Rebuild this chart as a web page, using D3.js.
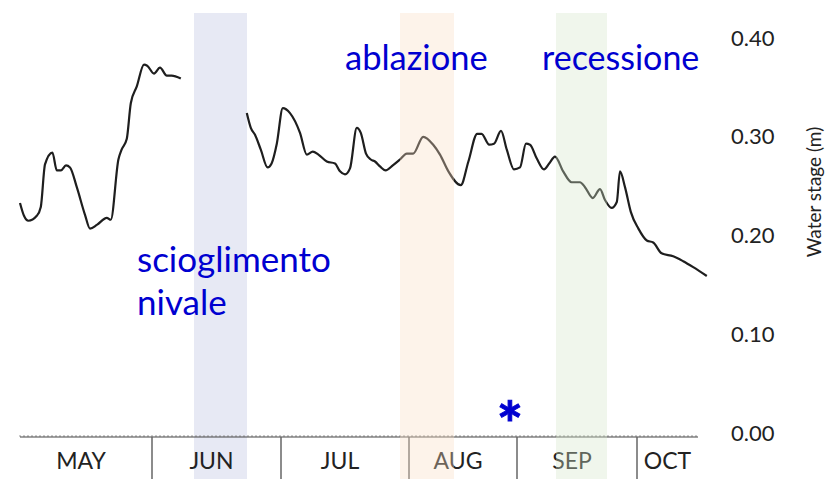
<!DOCTYPE html>
<html>
<head>
<meta charset="utf-8">
<script src="https://cdn.jsdelivr.net/npm/d3@7"></script>
<style>
  body { margin: 0; background: #fff; }
  text { font-family: Lato, "Open Sans", sans-serif; }
</style>
</head>
<body>
<div id="chart"></div>
<script>
// water stage series, x = days since the start of the record, y = metres
var days1 = [0, 1, 2.1, 4.2, 5.2, 6.25, 8.1, 9.2, 10.25, 11.5, 12.5, 14.2, 16.25, 17.5, 19.3, 21.7, 22.7,
             24.6, 25.4, 26.7, 27.7, 29.2, 31, 31.8, 33.5, 35, 36.7, 37.9, 40.2];
var stage1 = [0.237, 0.224, 0.219, 0.224, 0.233, 0.276, 0.288, 0.270, 0.270, 0.275, 0.273, 0.253, 0.225, 0.211, 0.215, 0.222, 0.220,
              0.281, 0.291, 0.302, 0.338, 0.355, 0.377, 0.376, 0.368, 0.374, 0.366, 0.366, 0.363];

var days2 = [56.7, 57.7, 58.75, 60.2, 61.9, 62.9, 64.2, 65.7, 67.5, 70, 71.7, 73.2, 74.6, 76.7, 78.75, 80, 81.25, 82.5,
             84.2, 85.2, 86.5, 87.7, 88.75, 90, 91.4, 93.2, 95, 96.7, 98.3, 100.8, 103.3, 105, 107.1, 110.2, 112.1,
             114.3, 115.4, 117.3, 118.5, 120.25, 121.7, 123.5, 125, 126.5, 127.5, 129.2, 131, 132.3, 133.75, 135.8,
             137.9, 140, 141.25, 143.2, 145, 146.25, 147.9, 149.2, 150, 151.25, 152.7, 154.6, 156.7, 158.3, 160.4,
             163.3, 165.8, 168.3, 171.7];
var stage2 = [0.328, 0.313, 0.306, 0.291, 0.273, 0.277, 0.297, 0.333, 0.328, 0.308, 0.286, 0.289, 0.286, 0.279, 0.277, 0.269, 0.266, 0.272,
              0.313, 0.308, 0.287, 0.281, 0.279, 0.274, 0.270, 0.275, 0.281, 0.287, 0.287, 0.304, 0.296, 0.286, 0.269, 0.255, 0.279,
              0.307, 0.307, 0.296, 0.297, 0.310, 0.291, 0.271, 0.273, 0.297, 0.296, 0.282, 0.271, 0.277, 0.284, 0.269,
              0.258, 0.258, 0.253, 0.242, 0.251, 0.240, 0.232, 0.238, 0.269, 0.253, 0.228, 0.211, 0.199, 0.197, 0.186,
              0.183, 0.178, 0.172, 0.163];

// month boxes under the axis (start day of each)
var months = ["MAY", "JUN", "JUL", "AUG", "SEP", "OCT"];
var monthStart = [0, 33, 65.25, 97.25, 124.25, 154.25];
var axisEnd = 169.5;
var labelEnd = 172;

var yTicks = [0, 0.1, 0.2, 0.3, 0.4];

// hydrological phases (shaded bands)
var bandStart = [43.5, 95, 134];
var bandEnd = [56.75, 108.5, 146.75];
var bandColors = ["rgb(186,192,224)", "rgb(249,221,195)", "rgb(212,229,201)"];

var starDay = 122.5;

var width = 829, height = 479;

var svg = d3.select("#chart")
  .append("svg")
  .attr("width", width)
  .attr("height", height);

var x = d3.scaleLinear()
          .domain([0, 172])
          .range([20, 708]);

var y = d3.scaleLinear()
          .domain([0, 0.4])
          .range([437, 42]);

function band(g, i) {
  g.append("rect")
    .attr("x", x(bandStart[i]))
    .attr("y", 13)
    .attr("width", x(bandEnd[i]) - x(bandStart[i]))
    .attr("height", height - 13)
    .attr("fill", bandColors[i])
    .attr("opacity", 0.35);
}

// the June band has no data over it, keep it behind the text
band(svg, 0);

// small day ticks along the baseline
svg.append("g")
  .selectAll("line")
  .data(d3.range(0, Math.floor(axisEnd) + 1))
  .enter()
  .append("line")
    .attr("x1", function(d) { return x(d); })
    .attr("x2", function(d) { return x(d); })
    .attr("y1", y(0) - 2)
    .attr("y2", y(0))
    .attr("stroke", "#999")
    .attr("stroke-width", 1);

// baseline
svg.append("line")
  .attr("x1", x(0))
  .attr("x2", x(axisEnd))
  .attr("y1", y(0))
  .attr("y2", y(0))
  .attr("stroke", "#444")
  .attr("stroke-width", 1.2);

// month dividers
svg.append("g")
  .selectAll("line")
  .data(monthStart.slice(1))
  .enter()
  .append("line")
    .attr("x1", function(d) { return x(d); })
    .attr("x2", function(d) { return x(d); })
    .attr("y1", y(0))
    .attr("y2", height)
    .attr("stroke", "#666")
    .attr("stroke-width", 1.5);

// month names
svg.append("g")
  .selectAll("text")
  .data(months)
  .enter()
  .append("text")
    .attr("x", function(d, i) {
      var end = i < months.length - 1 ? monthStart[i + 1] : labelEnd;
      return (x(monthStart[i]) + x(end)) / 2 - 5;
    })
    .attr("y", 469)
    .attr("text-anchor", "middle")
    .attr("font-size", 23)
    .attr("fill", "#222")
    .text(function(d) { return d; });

// right y axis labels
svg.append("g")
  .selectAll("text")
  .data(yTicks)
  .enter()
  .append("text")
    .attr("x", 731)
    .attr("y", function(d) { return y(d) - 4; })
    .attr("dy", "0.35em")
    .attr("font-size", 22)
    .attr("fill", "#222")
    .text(function(d) { return d3.format(".2f")(d); });

svg.append("text")
  .attr("transform", "translate(821,192) rotate(-90)")
  .attr("text-anchor", "middle")
  .attr("font-size", 19)
  .attr("fill", "#222")
  .text("Water stage (m)");

// the series, with a gap in June
var line = d3.line()
  .x(function(d) { return x(d[0]); })
  .y(function(d) { return y(d[1]); })
  .curve(d3.curveMonotoneX);

[[days1, stage1], [days2, stage2]].forEach(function(s) {
  svg.append("path")
    .datum(d3.zip(s[0], s[1]))
    .attr("fill", "none")
    .attr("stroke", "#1e1e1e")
    .attr("stroke-width", 2.2)
    .attr("stroke-linejoin", "round")
    .attr("d", line);
});

// the other two bands sit over the line
band(svg, 1);
band(svg, 2);

var blue = "#0000d0";

svg.append("text")
  .attr("x", 137)
  .attr("y", 272)
  .attr("font-size", 35)
  .attr("fill", blue)
  .text("scioglimento");
svg.append("text")
  .attr("x", 137)
  .attr("y", 315)
  .attr("font-size", 35)
  .attr("fill", blue)
  .text("nivale");
svg.append("text")
  .attr("x", 345)
  .attr("y", 70)
  .attr("font-size", 34.5)
  .attr("fill", blue)
  .text("ablazione");
svg.append("text")
  .attr("x", 542)
  .attr("y", 70)
  .attr("font-size", 34)
  .attr("fill", blue)
  .text("recessione");

svg.append("text")
  .attr("x", x(starDay))
  .attr("y", 447)
  .attr("text-anchor", "middle")
  .attr("font-size", 62)
  .attr("font-weight", "bold")
  .attr("fill", blue)
  .attr("stroke", blue)
  .attr("stroke-width", 1)
  .text("*");
</script>
</body>
</html>
